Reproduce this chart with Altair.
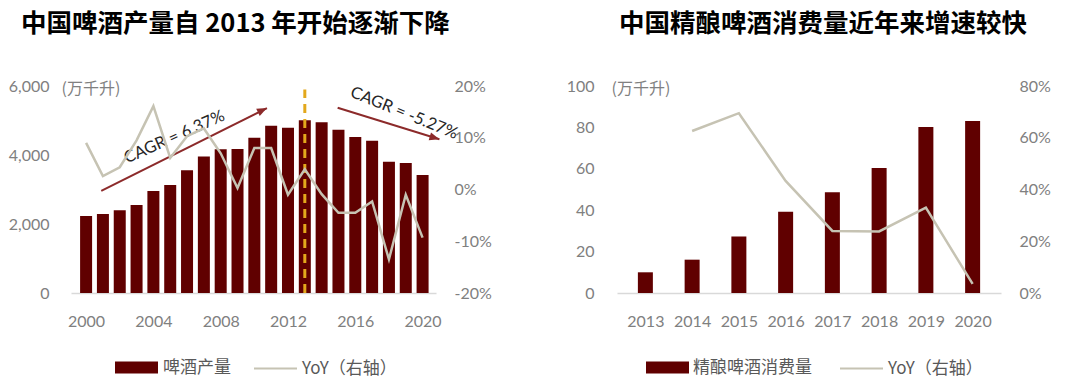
import altair as alt
import pandas as pd

# ---------------- data ----------------
years_a = list(range(2000, 2021))
beer_output = [2230, 2290, 2400, 2550, 2955, 3130, 3555, 3960, 4165, 4175, 4500,
               4850, 4790, 5005, 4950, 4735, 4520, 4415, 3805, 3770, 3420]
beer_yoy = [9.0, 2.6, 4.3, 9.5, 16.1, 6.1, 10.3, 11.8, 7.0, 0.3, 8.0,
            8.0, -1.0, 3.9, -0.9, -4.5, -4.5, -2.3, -13.5, -1.0, -9.3]

years_b = list(range(2013, 2021))
craft_volume = [10.0, 16.1, 27.3, 39.2, 48.7, 60.4, 80.2, 83.1]
craft_yoy_years = list(range(2014, 2021))
craft_yoy = [62.6, 69.5, 43.3, 24.0, 23.8, 33.0, 3.5]

title_a = "中国啤酒产量自 2013 年开始逐渐下降"
title_b = "中国精酿啤酒消费量近年来增速较快"
unit_label = "(万千升)"
bar_name_a = "啤酒产量"
bar_name_b = "精酿啤酒消费量"
line_name = "YoY（右轴）"

peak_year = [2013]
peak_lo = [0]
peak_hi = [5900]

cagr_labels = ["CAGR = 6.37%", "CAGR = -5.27%"]
cagr_x = [2005.25, 2018.9]
cagr_y = [4520, 5215]
cagr_angle = [336, 22]
arrow_x_start = [2000.9, 2014.95]
arrow_y_start = [2960, 5370]
arrow_x_end = [2010.75, 2021.0]
arrow_y_end = [5360, 4455]
arrow_head_angle = [64, 107]

ticks_a = [2000, 2004, 2008, 2012, 2016, 2020]

# ---------------- style ----------------
BAR = "#600000"
LINE = "#c6c3b3"
GOLD = "#e3a81c"
ARROW = "#8c2a2a"
TXT = "#808080"
LAT = "Lato, Noto Sans CJK SC"
CJK = "Noto Sans CJK SC"

W_A, W_B, H = 365, 384, 207

rect_sym = "M-1,-0.28H1V0.28H-1Z"
line_sym = "M-1,0H1"
head_sym = "M0,0L-0.8,2L0.8,2Z"

LEG_Y = 260

# ---------------- left panel ----------------
df_a = pd.DataFrame({"year": years_a, "output": beer_output, "yoy": beer_yoy,
                     "series": bar_name_a, "lseries": line_name})
xa = alt.Scale(domain=[1999.4, 2020.5], nice=False, zero=False)
ya = alt.Scale(domain=[0, 6000], nice=False)
yya = alt.Scale(domain=[-20, 20], nice=False)

bars_a = alt.Chart(df_a).mark_bar(size=12).encode(
    x=alt.X("year:Q", scale=xa, title=None,
            axis=alt.Axis(values=ticks_a, format="d", labelPadding=20)),
    y=alt.Y("output:Q", scale=ya, title=unit_label,
            axis=alt.Axis(values=[0, 2000, 4000, 6000],
                          labelExpr="format(datum.value, ',.0f')", orient="left",
                          labelPadding=22, titleAngle=0, titleAlign="left",
                          titleBaseline="middle", titleX=-10, titleY=2)),
    fill=alt.Fill("series:N", scale=alt.Scale(domain=[bar_name_a], range=[BAR]),
                  legend=alt.Legend(title=None, orient="none", legendX=44, legendY=LEG_Y,
                                    symbolType=rect_sym, symbolSize=1849,
                                    symbolStrokeWidth=0, labelOffset=5)),
)

rule_a = alt.Chart(pd.DataFrame({"year": peak_year, "lo": peak_lo, "hi": peak_hi})).mark_rule(
    color=GOLD, strokeWidth=3, strokeDash=[9, 6]).encode(
    x=alt.X("year:Q", scale=xa, title=None),
    y=alt.Y("lo:Q", scale=ya, title=unit_label),
    y2="hi:Q",
)

arr_df = pd.DataFrame({"x": arrow_x_start, "y": arrow_y_start, "x2": arrow_x_end,
                       "y2": arrow_y_end, "ang": arrow_head_angle})
arrow_lines = alt.Chart(arr_df).mark_rule(color=ARROW, strokeWidth=2).encode(
    x=alt.X("x:Q", scale=xa, title=None),
    y=alt.Y("y:Q", scale=ya, title=unit_label),
    x2="x2:Q", y2="y2:Q",
)
arrow_heads = alt.Chart(arr_df).mark_point(shape=head_sym, filled=True, size=100,
                                           color=ARROW, opacity=1).encode(
    x=alt.X("x2:Q", scale=xa, title=None),
    y=alt.Y("y2:Q", scale=ya, title=unit_label),
    angle=alt.Angle("ang:Q", scale=None),
)

cagr_df = pd.DataFrame({"x": cagr_x, "y": cagr_y, "label": cagr_labels, "ang": cagr_angle})
cagr_text = alt.Chart(cagr_df).mark_text(fontSize=16.5, color="#262626", font=LAT).encode(
    x=alt.X("x:Q", scale=xa, title=None),
    y=alt.Y("y:Q", scale=ya, title=unit_label),
    text="label:N",
    angle=alt.Angle("ang:Q", scale=None),
)

line_a = alt.Chart(df_a).mark_line(strokeWidth=2.5).encode(
    x=alt.X("year:Q", scale=xa, title=None),
    y=alt.Y("yoy:Q", scale=yya, title=None,
            axis=alt.Axis(values=[-20, -10, 0, 10, 20], labelExpr="datum.value + '%'",
                          orient="right", labelPadding=18)),
    stroke=alt.Stroke("lseries:N", scale=alt.Scale(domain=[line_name], range=[LINE]),
                      legend=alt.Legend(title=None, orient="none", legendX=182, legendY=LEG_Y,
                                        symbolType=line_sym, symbolSize=1849,
                                        symbolStrokeWidth=2, labelOffset=4)),
)

left = alt.layer(
    alt.layer(bars_a, rule_a, arrow_lines, arrow_heads, cagr_text),
    line_a,
).resolve_scale(y="independent").properties(
    width=W_A, height=H,
    title=alt.TitleParams(title_a, anchor="start", frame="group", dx=-50, offset=41,
                          fontSize=25.5, font=CJK, fontWeight="bold", color="#000000"),
)

# ---------------- right panel ----------------
df_b = pd.DataFrame({"year": years_b, "vol": craft_volume, "series": bar_name_b})
df_b2 = pd.DataFrame({"year": craft_yoy_years, "yoy": craft_yoy, "lseries": line_name})
xb = alt.Scale(domain=[2012.5, 2020.5], nice=False, zero=False)
yb = alt.Scale(domain=[0, 100], nice=False)
yyb = alt.Scale(domain=[0, 80], nice=False)

bars_b = alt.Chart(df_b).mark_bar(size=15).encode(
    x=alt.X("year:Q", scale=xb, title=None,
            axis=alt.Axis(values=years_b, format="d", labelPadding=20)),
    y=alt.Y("vol:Q", scale=yb, title=unit_label,
            axis=alt.Axis(values=[0, 20, 40, 60, 80, 100], orient="left",
                          labelPadding=23, titleAngle=0, titleAlign="left",
                          titleBaseline="middle", titleX=-6, titleY=2)),
    fill=alt.Fill("series:N", scale=alt.Scale(domain=[bar_name_b], range=[BAR]),
                  legend=alt.Legend(title=None, orient="none", legendX=29, legendY=LEG_Y,
                                    symbolType=rect_sym, symbolSize=1849,
                                    symbolStrokeWidth=0, labelOffset=4)),
)

line_b = alt.Chart(df_b2).mark_line(strokeWidth=2.5).encode(
    x=alt.X("year:Q", scale=xb, title=None),
    y=alt.Y("yoy:Q", scale=yyb, title=None,
            axis=alt.Axis(values=[0, 20, 40, 60, 80], labelExpr="datum.value + '%'",
                          orient="right", labelPadding=18)),
    stroke=alt.Stroke("lseries:N", scale=alt.Scale(domain=[line_name], range=[LINE]),
                      legend=alt.Legend(title=None, orient="none", legendX=222, legendY=LEG_Y,
                                        symbolType=line_sym, symbolSize=1849,
                                        symbolStrokeWidth=2, labelOffset=4)),
)

right = alt.layer(bars_b, line_b).resolve_scale(y="independent").properties(
    width=W_B, height=H,
    title=alt.TitleParams(title_b, anchor="start", frame="group", dx=2, offset=41,
                          fontSize=25.5, font=CJK, fontWeight="bold", color="#000000"),
)

chart = alt.hconcat(left, right, spacing=181, bounds="flush").resolve_scale(
    fill="independent", stroke="independent", y="independent", x="independent"
).resolve_legend(fill="independent", stroke="independent").properties(
    padding={"left": 0, "top": 3, "right": 0, "bottom": 0},
    background="white",
).configure_view(stroke=None).configure_axis(
    grid=False, ticks=False, domain=False,
    labelFont=LAT, labelFontSize=16, labelColor=TXT,
    titleFont=CJK, titleFontSize=16, titleColor=TXT, titleFontWeight="normal",
).configure_axisX(
    domain=True, domainColor="#d9d9d9", domainWidth=1.5,
).configure_legend(
    labelFont=CJK, labelFontSize=17, labelColor="#595959", padding=0,
)

chart.save("out.html", embed_options={"renderer": "svg", "actions": False})
